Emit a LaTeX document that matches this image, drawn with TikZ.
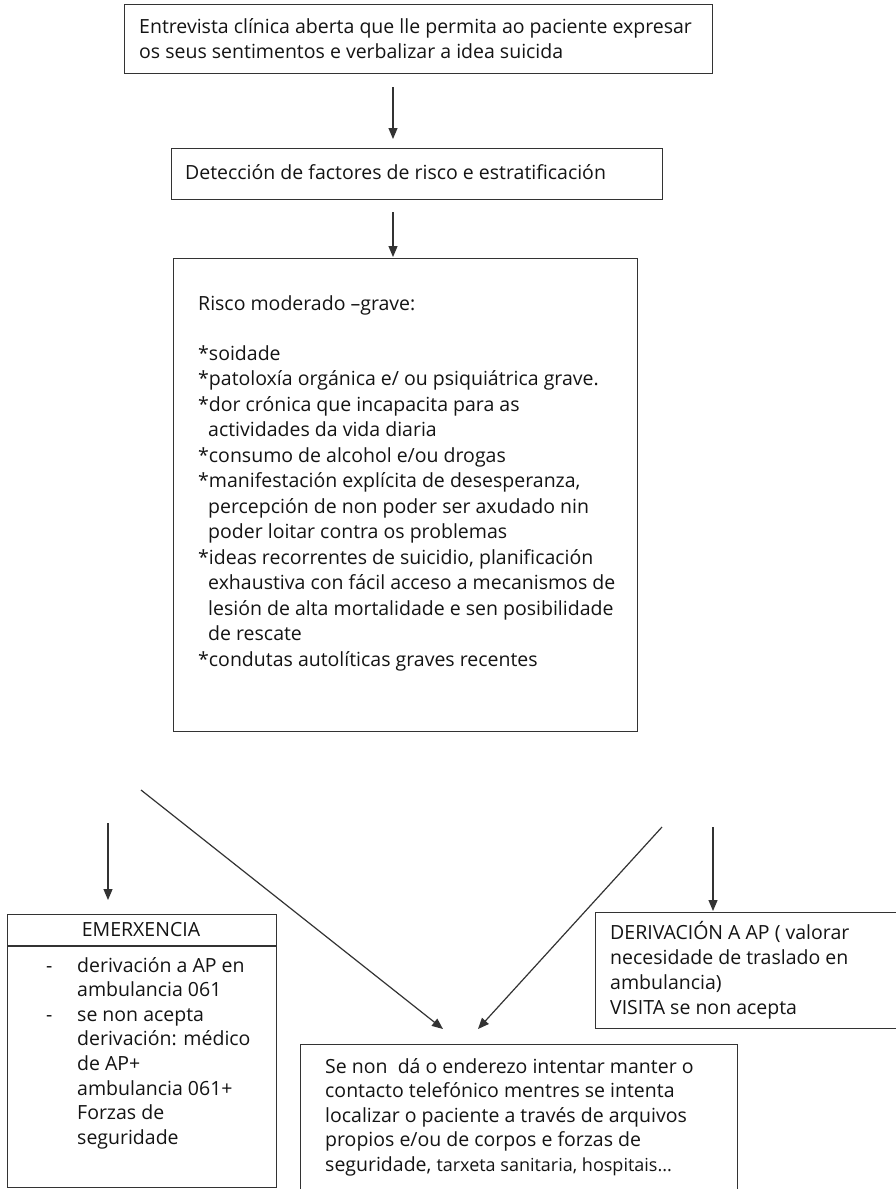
\documentclass[tikz,border=0pt]{standalone}
\usepackage{fontspec}
\setmainfont{Open Sans}
\usetikzlibrary{arrows.meta}
\begin{document}
\begin{tikzpicture}[x=1pt,y=-1pt,
  box/.style={draw=black!80, line width=1.2pt, inner sep=0pt, anchor=north west},
  arr/.style={draw=black!80, line width=1.2pt, -{Triangle[length=11pt,width=9pt]}},
  ln/.style={font=\fontsize{19.5}{24}\selectfont, inner sep=0pt, anchor=base west, text=black!92},
  lnc/.style={ln, anchor=base},
]
\useasboundingbox (0,0) rectangle (896,1189);
\fill[white] (0,0) rectangle (896,1189);

% ---- boxes ----
\node[box, minimum width=588pt, minimum height=69pt] (b1) at (124,4) {};
\node[box, minimum width=491pt, minimum height=51pt] (b2) at (171,148) {};
\node[box, minimum width=464pt, minimum height=473pt] (b3) at (173,258) {};
\node[box, minimum width=269pt, minimum height=273pt] (b5) at (7,914) {};
\node[box, minimum width=310pt, minimum height=116pt] (b6) at (595,912) {};
\node[box, minimum width=437pt, minimum height=170pt] (b4) at (300,1044) {};
\coordinate (h5l) at (7,946);
\coordinate (h5r) at (276,946);
\draw[draw=black!80, line width=1.2pt] (h5l) -- (h5r);

% ---- connectors ----
\coordinate (a1s) at (393,87);   \coordinate (a1e) at (393,139);
\coordinate (a2s) at (393,212);  \coordinate (a2e) at (393,257);
\coordinate (dls) at (141,790);  \coordinate (dle) at (443,1029);
\coordinate (drs) at (662,827);  \coordinate (dre) at (478,1029);
\coordinate (als) at (108,823);  \coordinate (ale) at (108,900);
\coordinate (ars) at (713,827);  \coordinate (are) at (713,911);
\draw[arr] (a1s) -- (a1e);
\draw[arr] (a2s) -- (a2e);
\draw[arr] (dls) -- (dle);
\draw[arr] (drs) -- (dre);
\draw[arr] (als) -- (ale);
\draw[arr] (ars) -- (are);

% ---- texts ----
\node[ln] (t11) at (139,33) {Entrevista clínica aberta que lle permita ao paciente expresar};
\node[ln] (t12) at (139,58) {os seus sentimentos e verbalizar a idea suicida};
\node[ln] (t21) at (185,179) {Detección de factores de risco e estratificación};

\node[ln] (t30) at (198,310) {Risco moderado –grave:};
\foreach \t/\xx [count=\i from 0] in {
  {*soidade}/198,
  {*patoloxía orgánica e/ ou psiquiátrica grave.}/198,
  {*dor crónica que incapacita para as}/198,
  {actividades da vida diaria}/208,
  {*consumo de alcohol e/ou drogas}/198,
  {*manifestación explícita de desesperanza,}/198,
  {percepción de non poder ser axudado nin}/208,
  {poder loitar contra os problemas}/208,
  {*ideas recorrentes de suicidio, planificación}/198,
  {exhaustiva con fácil acceso a mecanismos de}/208,
  {lesión de alta mortalidade e sen posibilidade}/208,
  {de rescate}/208,
  {*condutas autolíticas graves recentes}/198}
  \node[ln] (t3\i) at (\xx,360+25.5*\i) {\t};

\node[lnc] (t50) at (141,936) {EMERXENCIA};
\node[ln] (d51) at (46,972) {-};
\node[ln] (d52) at (46,1021.2) {-};
\foreach \t [count=\i from 0] in {
  {derivación a AP en},
  {ambulancia 061},
  {se non acepta},
  {derivación: médico},
  {de AP+},
  {ambulancia 061+},
  {Forzas de},
  {seguridade}}
  \node[ln] (t5\i) at (77,972+24.6*\i) {\t};

\foreach \t [count=\i from 0] in {
  {DERIVACIÓN A AP ( valorar},
  {necesidade de traslado en},
  {ambulancia)},
  {VISITA se non acepta}}
  \node[ln] (t6\i) at (610,939+25.3*\i) {\t};

\foreach \t [count=\i from 0] in {
  {Se non\ \ dá o enderezo intentar manter o},
  {contacto telefónico mentres se intenta},
  {localizar o paciente a través de arquivos},
  {propios e/ou de corpos e forzas de},
  {seguridade, {\fontsize{18}{24}\selectfont tarxeta sanitaria, hospitais...}}}
  \node[ln] (t4\i) at (325,1073+24.5*\i) {\t};
\end{tikzpicture}
\end{document}
